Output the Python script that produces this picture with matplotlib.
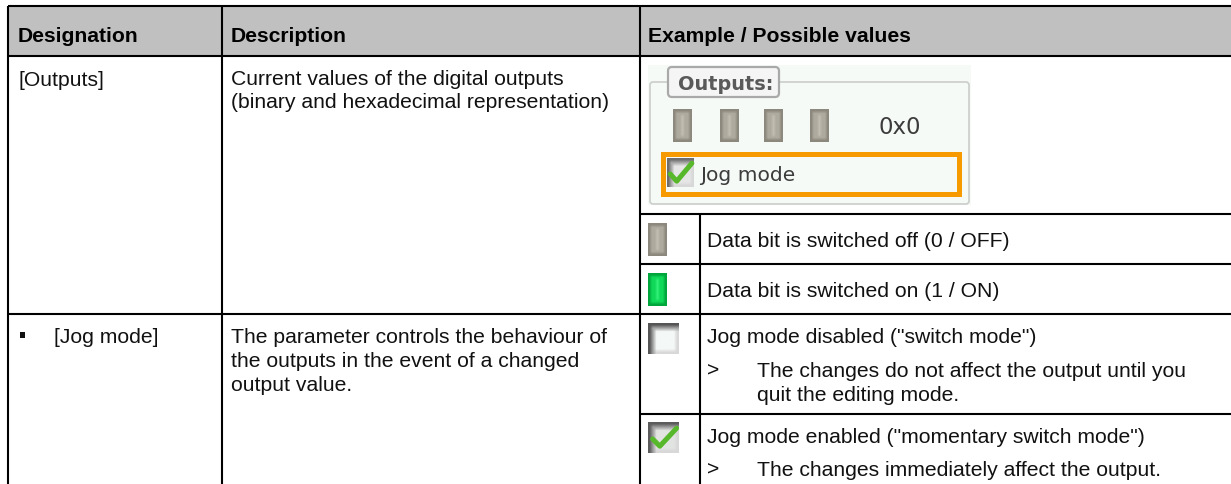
import numpy as np
import matplotlib
matplotlib.use('Agg')
import matplotlib.pyplot as plt
from matplotlib.colors import to_rgb
from matplotlib.patches import Rectangle, FancyBboxPatch

W, H = 1231, 485

header_labels = ["Designation", "Description", "Example / Possible values"]
header_x = [18, 231, 648]

# text, x, baseline y
body_texts = [
    ("[Outputs]", 18, 86),
    ("Current values of the digital outputs", 231, 85),
    ("(binary and hexadecimal representation)", 231, 108),
    ("Data bit is switched off (0 / OFF)", 707, 247),
    ("Data bit is switched on (1 / ON)", 707, 297),
    ("[Jog mode]", 54, 343),
    ("The parameter controls the behaviour of", 231, 343),
    ("the outputs in the event of a changed", 231, 367),
    ("output value.", 231, 391),
    ('Jog mode disabled ("switch mode")', 707, 343),
    (">", 707, 377),
    ("The changes do not affect the output until you", 757, 377),
    ("quit the editing mode.", 757, 401),
    ('Jog mode enabled ("momentary switch mode")', 707, 443),
    (">", 707, 476),
    ("The changes immediately affect the output.", 757, 476),
]

# x0, y0, x1, y1
grid_lines = [
    (8, 7, 1231, 7),
    (8, 56.5, 1231, 56.5),
    (640, 215, 1231, 215),
    (640, 265, 1231, 265),
    (8, 314.5, 1231, 314.5),
    (640, 414.5, 1231, 414.5),
    (8, 7, 8, 485),
    (222, 7, 222, 485),
    (640, 7, 640, 485),
    (700, 215, 700, 485),
]

panel_led_x = [673, 720, 764, 810]

plt.rcParams['font.family'] = ['Liberation Sans', 'DejaVu Sans']
FS = 15.2

fig = plt.figure(figsize=(W / 100, H / 100), dpi=100)
ax = fig.add_axes([0, 0, 1, 1])


def shaded(x0, y0, x1, y1, arr):
    # small colour grid smoothed out, for the blurry screenshot icons
    ax.imshow(arr, extent=(x0, x1, y1, y0), interpolation='bilinear', aspect='auto', zorder=3)


def led(x, y, w, h, edge, mid, light):
    arr = np.tile(np.array(to_rgb(edge)), (11, 7, 1))
    arr[1:-1, 1:-1] = to_rgb(mid)
    arr[2:-2, 3] = to_rgb(light)
    shaded(x, y, x + w, y + h, arr)


def box(x, y, w, h, dark, face):
    arr = np.tile(np.array(to_rgb(face)), (9, 9, 1))
    arr[-1, :] = to_rgb('#d8d8d8')
    arr[:, -1] = to_rgb('#d8d8d8')
    arr[0, :] = to_rgb(dark)
    arr[:, 0] = to_rgb(dark)
    arr[1, 1:] = 0.5 * (np.array(to_rgb(dark)) + np.array(to_rgb(face)))
    arr[1:, 1] = 0.5 * (np.array(to_rgb(dark)) + np.array(to_rgb(face)))
    shaded(x, y, x + w, y + h, arr)


def check(x, y, w, h):
    xs = [x + 0.12 * w, x + 0.36 * w, x + 0.92 * w]
    ys = [y + 0.55 * h, y + 0.80 * h, y + 0.18 * h]
    ax.plot(xs, ys, color='#58b82c', lw=3.6, solid_capstyle='round', zorder=5)


# header background
ax.add_patch(Rectangle((8, 7), W - 8, 49.5, fc='#c0c0c0', ec='none', zorder=1))

# screenshot panel
ax.add_patch(Rectangle((648, 66), 323, 140, fc='#f5faf7', ec='none', zorder=1))
ax.add_patch(FancyBboxPatch((650, 83), 319, 122, boxstyle='round,pad=0,rounding_size=3',
                            fc='none', ec='#cbcdcb', lw=1.2, zorder=2))
ax.add_patch(FancyBboxPatch((668, 68), 111, 30, boxstyle='round,pad=0,rounding_size=4',
                            fc='#f4f5f4', ec='#a9a9a9', lw=1.6, zorder=3))
ax.text(678, 90, "Outputs:", fontsize=13.9, fontweight='bold', family='DejaVu Sans',
        color='#5a5a5a', zorder=4)
for lx in panel_led_x:
    led(lx, 110.5, 19, 32.5, '#8c887d', '#aeaa9e', '#c2beb2')
ax.text(878, 134, "0x0", fontsize=16.5, family='DejaVu Sans', color='#3c3c3c', zorder=4)
ax.add_patch(Rectangle((662.5, 155), 296, 39.5, fc='none', ec='#f79a00', lw=3.6, zorder=3))
box(667, 159, 27, 29, '#6e6e6e', '#e6e6e6')
check(667, 159, 27, 29)
ax.text(700, 181, "Jog mode", fontsize=14.6, family='DejaVu Sans', color='#3c3c3c', zorder=4)

# state icons
led(648, 224, 19, 33, '#8c887d', '#aeaa9e', '#c2beb2')
led(648, 274, 19, 33, '#00a63c', '#10d858', '#30f078')
box(648, 324, 31, 31, '#555555', '#f4f8f6')
box(648, 423, 31, 31, '#5c5c5c', '#e2e4e2')
check(649, 424, 30, 29)

for x0, y0, x1, y1 in grid_lines:
    ax.plot([x0, x1], [y0, y1], color='black', lw=1.5, solid_capstyle='butt', zorder=6)

# bullet of the [Jog mode] row
ax.add_patch(Rectangle((19.5, 333), 5, 5.5, fc='#111111', ec='none', zorder=7))

for label, x in zip(header_labels, header_x):
    ax.text(x, 42.5, label, fontsize=FS, fontweight='bold', color='black', zorder=7)
for txt, x, y in body_texts:
    ax.text(x, y, txt, fontsize=FS, color='#111111', zorder=7)

ax.set_xlim(0, W)
ax.set_ylim(H, 0)
ax.axis('off')

fig.savefig('out.png', dpi=100)
